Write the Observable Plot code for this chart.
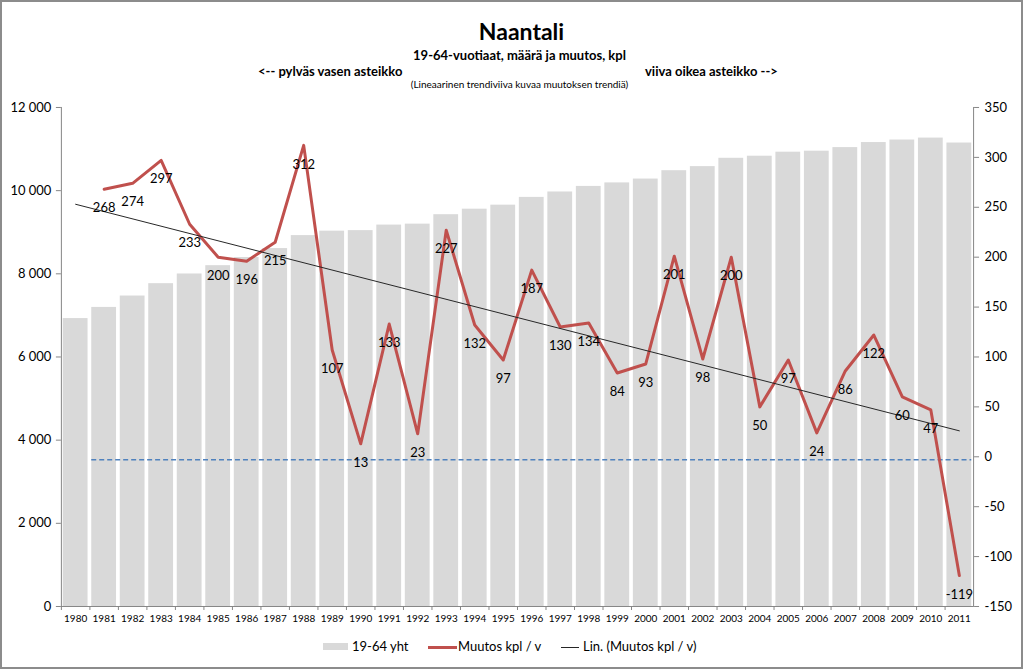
<!DOCTYPE html>
<html><head><meta charset="utf-8">
<script src="https://cdn.jsdelivr.net/npm/d3@7"></script>
<script src="https://cdn.jsdelivr.net/npm/@observablehq/plot@0.6"></script>
<style>
html,body{margin:0;padding:0;background:#fff;}
body{font-family:Lato,"Open Sans",sans-serif;}
#frame{position:relative;width:1023px;height:669px;box-sizing:border-box;border:2px solid #8c8c8c;overflow:hidden;background:#fff;}
.t{position:absolute;white-space:nowrap;color:#000;line-height:1;}
#chart{position:absolute;left:-2px;top:93px;}
.lg{position:absolute;}
.lt{position:absolute;font-size:13px;line-height:1;white-space:nowrap;color:#000;}
</style></head><body>
<div id="frame">
  <div class="t" style="left:0;width:1039px;top:18px;text-align:center;font-size:23px;font-weight:bold;">Naantali</div>
  <div class="t" style="left:0;width:1035px;top:47px;text-align:center;font-size:13px;font-weight:bold;">19-64-vuotiaat, määrä ja muutos, kpl</div>
  <div class="t" style="left:256px;top:63px;font-size:13px;font-weight:bold;">&lt;-- pylväs vasen asteikko</div>
  <div class="t" style="left:643px;top:63px;font-size:13px;font-weight:bold;">viiva oikea asteikko --&gt;</div>
  <div class="t" style="left:0;width:1035px;top:77px;text-align:center;font-size:10px;">(Lineaarinen trendiviiva kuvaa muutoksen trendiä)</div>
  <div id="chart"></div>
  <div id="legend"></div>
</div>
<script>
// ---- data ----
const years = [1980,1981,1982,1983,1984,1985,1986,1987,1988,1989,1990,1991,1992,1993,1994,1995,
               1996,1997,1998,1999,2000,2001,2002,2003,2004,2005,2006,2007,2008,2009,2010,2011];
const total = [6924,7192,7466,7763,7996,8196,8392,8607,8919,9026,9039,9172,9195,9422,9554,9651,
               9838,9968,10102,10186,10279,10480,10578,10778,10828,10925,10949,11035,11157,11217,11264,11145];
const changeYears = [1981,1982,1983,1984,1985,1986,1987,1988,1989,1990,1991,1992,1993,1994,1995,
                     1996,1997,1998,1999,2000,2001,2002,2003,2004,2005,2006,2007,2008,2009,2010,2011];
const change = [268,274,297,233,200,196,215,312,107,13,133,23,227,132,97,
                187,130,134,84,93,201,98,200,50,97,24,86,122,60,47,-119];
const trendYears = [1980, 2011];
const trendValues = [253, 26];
const zeroLineYears = [1981, 2011];
const zeroLineValue = -3;
const leftTicks = [0,2000,4000,6000,8000,10000,12000];
const rightTicks = [-150,-100,-50,0,50,100,150,200,250,300,350];
const legendLabels = ["19-64 yht", "Muutos kpl / v", "Lin. (Muutos kpl / v)"];

// right scale (-150..350) mapped onto left scale (0..12000)
const R0 = -150, K = 12000 / 500;
const toLeft = v => (v - R0) * K;

const bars = years.map((y, i) => ({year: y, total: total[i]}));
const chg = changeYears.map((y, i) => ({year: y, v: change[i]}));
const trend = trendYears.map((y, i) => ({year: y, v: trendValues[i]}));

const fmtLeft = d => d === 0 ? "0" : d3.format(",")(d).replace(/,/g, "\u00a0");
const axisColor = "#868686";
const barColor = "#d9d9d9", lineColor = "#c0504d", trendColor = "#262626";

const chart = Plot.plot({
  width: 1023, height: 540,
  marginLeft: 61, marginRight: 48, marginTop: 12, marginBottom: 28,
  style: {fontFamily: "Lato, 'Open Sans', sans-serif", background: "transparent", color: "#000"},
  x: {type: "band", domain: years, paddingInner: 0.13, paddingOuter: 0.065, align: 0.5, round: false},
  y: {domain: [0, 12000]},
  marks: [
    Plot.barY(bars, {x: "year", y: "total", fill: barColor}),
    Plot.ruleY([zeroLineValue], {y: d => toLeft(d), x1: zeroLineYears[0], x2: zeroLineYears[1],
      stroke: "#4f81bd", strokeWidth: 1.5, strokeDasharray: "5,3"}),
    Plot.line(chg, {x: "year", y: d => toLeft(d.v), stroke: lineColor, strokeWidth: 3, strokeLinejoin: "round"}),
    Plot.line(trend, {x: "year", y: d => toLeft(d.v), stroke: trendColor, strokeWidth: 1}),
    Plot.text(chg, {x: "year", y: d => toLeft(d.v), text: d => String(d.v), dy: 19, fontSize: 13, fill: "#000"}),
    // axes
    Plot.ruleY([0], {stroke: axisColor}),
    Plot.frame({anchor: "left", stroke: axisColor}),
    Plot.frame({anchor: "right", stroke: axisColor}),
    Plot.axisY({ticks: leftTicks, tickFormat: fmtLeft, tickSize: 5, tickPadding: 5, fontSize: 13, stroke: axisColor, label: null}),
    Plot.axisY({anchor: "right", ticks: rightTicks.map(toLeft), tickFormat: d => String(Math.round(d / K + R0)),
      tickSize: 5, tickPadding: 6, fontSize: 13, stroke: axisColor, label: null}),
    Plot.axisX({tickSize: 4, tickFormat: () => "", dx: -14.28, stroke: axisColor, label: null}),
    Plot.axisX({tickSize: 0, tickPadding: 8, fontSize: 10, tickFormat: d => String(d), label: null})
  ]
});
document.getElementById("chart").appendChild(chart);

// legend (positions relative to the framed box)
const legend = document.getElementById("legend");
legend.innerHTML = `
  <span class="lg" style="left:321px;top:641px;width:25px;height:7px;background:${barColor}"></span>
  <span class="lt" style="left:350px;top:638px;">${legendLabels[0]}</span>
  <span class="lg" style="left:426px;top:643.5px;width:29px;height:3px;background:${lineColor}"></span>
  <span class="lt" style="left:456px;top:638px;">${legendLabels[1]}</span>
  <span class="lg" style="left:559px;top:644.5px;width:18px;height:1px;background:${trendColor}"></span>
  <span class="lt" style="left:581px;top:638px;">${legendLabels[2]}</span>`;
</script>
</body></html>
